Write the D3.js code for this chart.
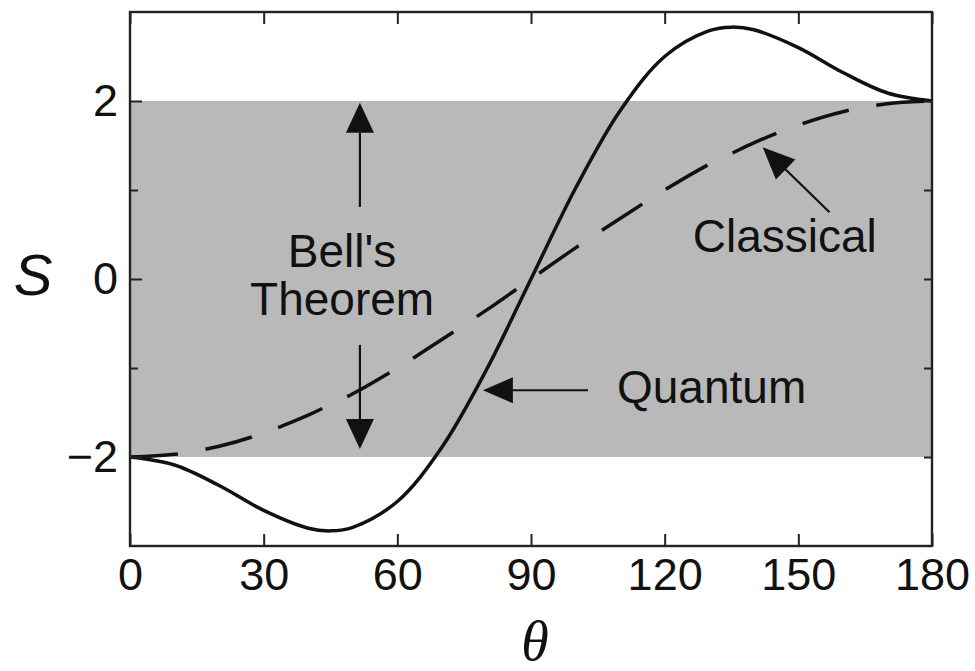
<!DOCTYPE html>
<html>
<head>
<meta charset="utf-8">
<script src="https://cdn.jsdelivr.net/npm/d3@7"></script>
<style>
  body { margin: 0; background: #fff; }
  svg { display: block; font-family: "Liberation Sans", Arial, Helvetica, sans-serif; }
</style>
</head>
<body>
<svg id="chart"></svg>
<script>
// angle (degrees) and S values
const theta = [0, 10, 20, 30, 40, 45, 50, 60, 70, 80, 90, 100, 110, 120, 130, 135, 140, 150, 160, 170, 180]
const quantum = [-2, -2.09, -2.32, -2.6, -2.8, -2.83, -2.79, -2.5, -1.89, -1.02, 0, 1.02, 1.89, 2.5, 2.79, 2.83, 2.8, 2.6, 2.32, 2.09, 2]
const classical = [-2, -1.97, -1.88, -1.73, -1.53, -1.41, -1.29, -1, -0.68, -0.35, 0, 0.35, 0.68, 1, 1.29, 1.41, 1.53, 1.73, 1.88, 1.97, 2]

const xTicks = [0, 30, 60, 90, 120, 150, 180]
const yTicks = [-2, -1, 0, 1, 2]
const bandLimits = [-2, 2] // classical bound |S| <= 2

const width = 975, height = 671
const marginTop = 12, marginRight = 43, marginBottom = 125, marginLeft = 130

const svg = d3.select("#chart")
    .attr("width", width)
    .attr("height", height)
    .attr("viewBox", [0, 0, width, height])

const x = d3.scaleLinear([0, 180], [marginLeft, width - marginRight])
const y = d3.scaleLinear([-3, 3], [height - marginBottom, marginTop])

// shaded region allowed by Bell's theorem
svg.append("rect")
    .attr("x", x(0))
    .attr("width", x(180) - x(0))
    .attr("y", y(bandLimits[1]))
    .attr("height", y(bandLimits[0]) - y(bandLimits[1]))
    .attr("fill", "#b9b9b9")

const line = (ys) => d3.line()
    .x((d, i) => x(theta[i]))
    .y((d, i) => y(ys[i]))
    .curve(d3.curveCatmullRom)(ys)

svg.append("path")
    .attr("d", line(classical))
    .attr("fill", "none")
    .attr("stroke", "#111")
    .attr("stroke-width", 3.5)
    .attr("stroke-dasharray", "48,28")

svg.append("path")
    .attr("d", line(quantum))
    .attr("fill", "none")
    .attr("stroke", "#111")
    .attr("stroke-width", 3.5)

// axes, ticks pointing inward
const fontSize = 45
svg.append("g")
    .attr("transform", `translate(0,${y(-3)})`)
    .call(d3.axisBottom(x).tickValues(xTicks).tickSize(-12).tickPadding(12).tickFormat(d3.format("d")))
    .call(g => g.select(".domain").remove())
    .call(g => g.selectAll("line").attr("stroke", "#222").attr("stroke-width", 2))
    .call(g => g.selectAll("text").attr("fill", "#111").attr("font-size", fontSize).attr("font-family", null))

svg.append("g")
    .attr("transform", `translate(0,${y(3)})`)
    .call(d3.axisTop(x).tickValues(xTicks).tickSize(-12).tickFormat(""))
    .call(g => g.select(".domain").remove())
    .call(g => g.selectAll("line").attr("stroke", "#222").attr("stroke-width", 2))

svg.append("g")
    .attr("transform", `translate(${x(0)},0)`)
    .call(d3.axisLeft(y).tickValues(yTicks).tickSize(-12).tickPadding(12)
        .tickFormat(d => d % 2 === 0 ? d3.format("d")(d) : ""))
    .call(g => g.select(".domain").remove())
    .call(g => g.selectAll("line")
        .attr("x2", d => d % 2 === 0 ? 12 : 8)
        .attr("stroke", "#222").attr("stroke-width", 2))
    .call(g => g.selectAll("text").attr("fill", "#111").attr("font-size", fontSize).attr("font-family", null))

svg.append("g")
    .attr("transform", `translate(${x(180)},0)`)
    .call(d3.axisRight(y).tickValues(yTicks).tickSize(-8).tickFormat(""))
    .call(g => g.select(".domain").remove())
    .call(g => g.selectAll("line").attr("stroke", "#222").attr("stroke-width", 2))

// frame
svg.append("rect")
    .attr("x", x(0))
    .attr("y", y(3))
    .attr("width", x(180) - x(0))
    .attr("height", y(-3) - y(3))
    .attr("fill", "none")
    .attr("stroke", "#222")
    .attr("stroke-width", 2.4)

// axis titles
svg.append("text")
    .attr("x", 33)
    .attr("y", y(0) + 16)
    .attr("text-anchor", "middle")
    .attr("font-size", 58)
    .attr("font-style", "italic")
    .attr("fill", "#111")
    .text("S")

svg.append("text")
    .attr("x", x(90) + 4)
    .attr("y", 660)
    .attr("text-anchor", "middle")
    .attr("font-family", "'Liberation Serif', 'DejaVu Serif', serif")
    .attr("font-size", 56)
    .attr("font-style", "italic")
    .attr("fill", "#111")
    .text("θ")

// annotations
function arrow(x1, y1, x2, y2, len = 30, half = 14) {
  const [ax, ay, bx, by] = [x(x1), y(y1), x(x2), y(y2)]
  const a = Math.atan2(by - ay, bx - ax)
  const cx = bx - len * Math.cos(a), cy = by - len * Math.sin(a)
  svg.append("line")
      .attr("x1", ax).attr("y1", ay)
      .attr("x2", cx).attr("y2", cy)
      .attr("stroke", "#111")
      .attr("stroke-width", 2.2)
  svg.append("path")
      .attr("d", d3.line()([
        [bx, by],
        [cx + half * Math.sin(a), cy - half * Math.cos(a)],
        [cx - half * Math.sin(a), cy + half * Math.cos(a)]
      ]) + "Z")
      .attr("fill", "#111")
}

arrow(51.6, 0.81, 51.6, 1.98)
arrow(51.6, -0.74, 51.6, -1.91)
arrow(102.8, -1.25, 79.2, -1.25, 30, 13)
arrow(157, 0.75, 142, 1.48, 32, 14)

const note = svg.append("g")
    .attr("fill", "#111")
    .attr("font-size", 46)

note.append("text")
    .attr("x", x(47.6)).attr("y", y(0.13))
    .attr("text-anchor", "middle")
    .text("Bell's")
note.append("text")
    .attr("x", x(47.6)).attr("y", y(-0.41))
    .attr("text-anchor", "middle")
    .text("Theorem")
note.append("text")
    .attr("x", x(109.3)).attr("y", y(-1.39))
    .text("Quantum")
note.append("text")
    .attr("x", x(126.3)).attr("y", y(0.3))
    .text("Classical")
</script>
</body>
</html>
